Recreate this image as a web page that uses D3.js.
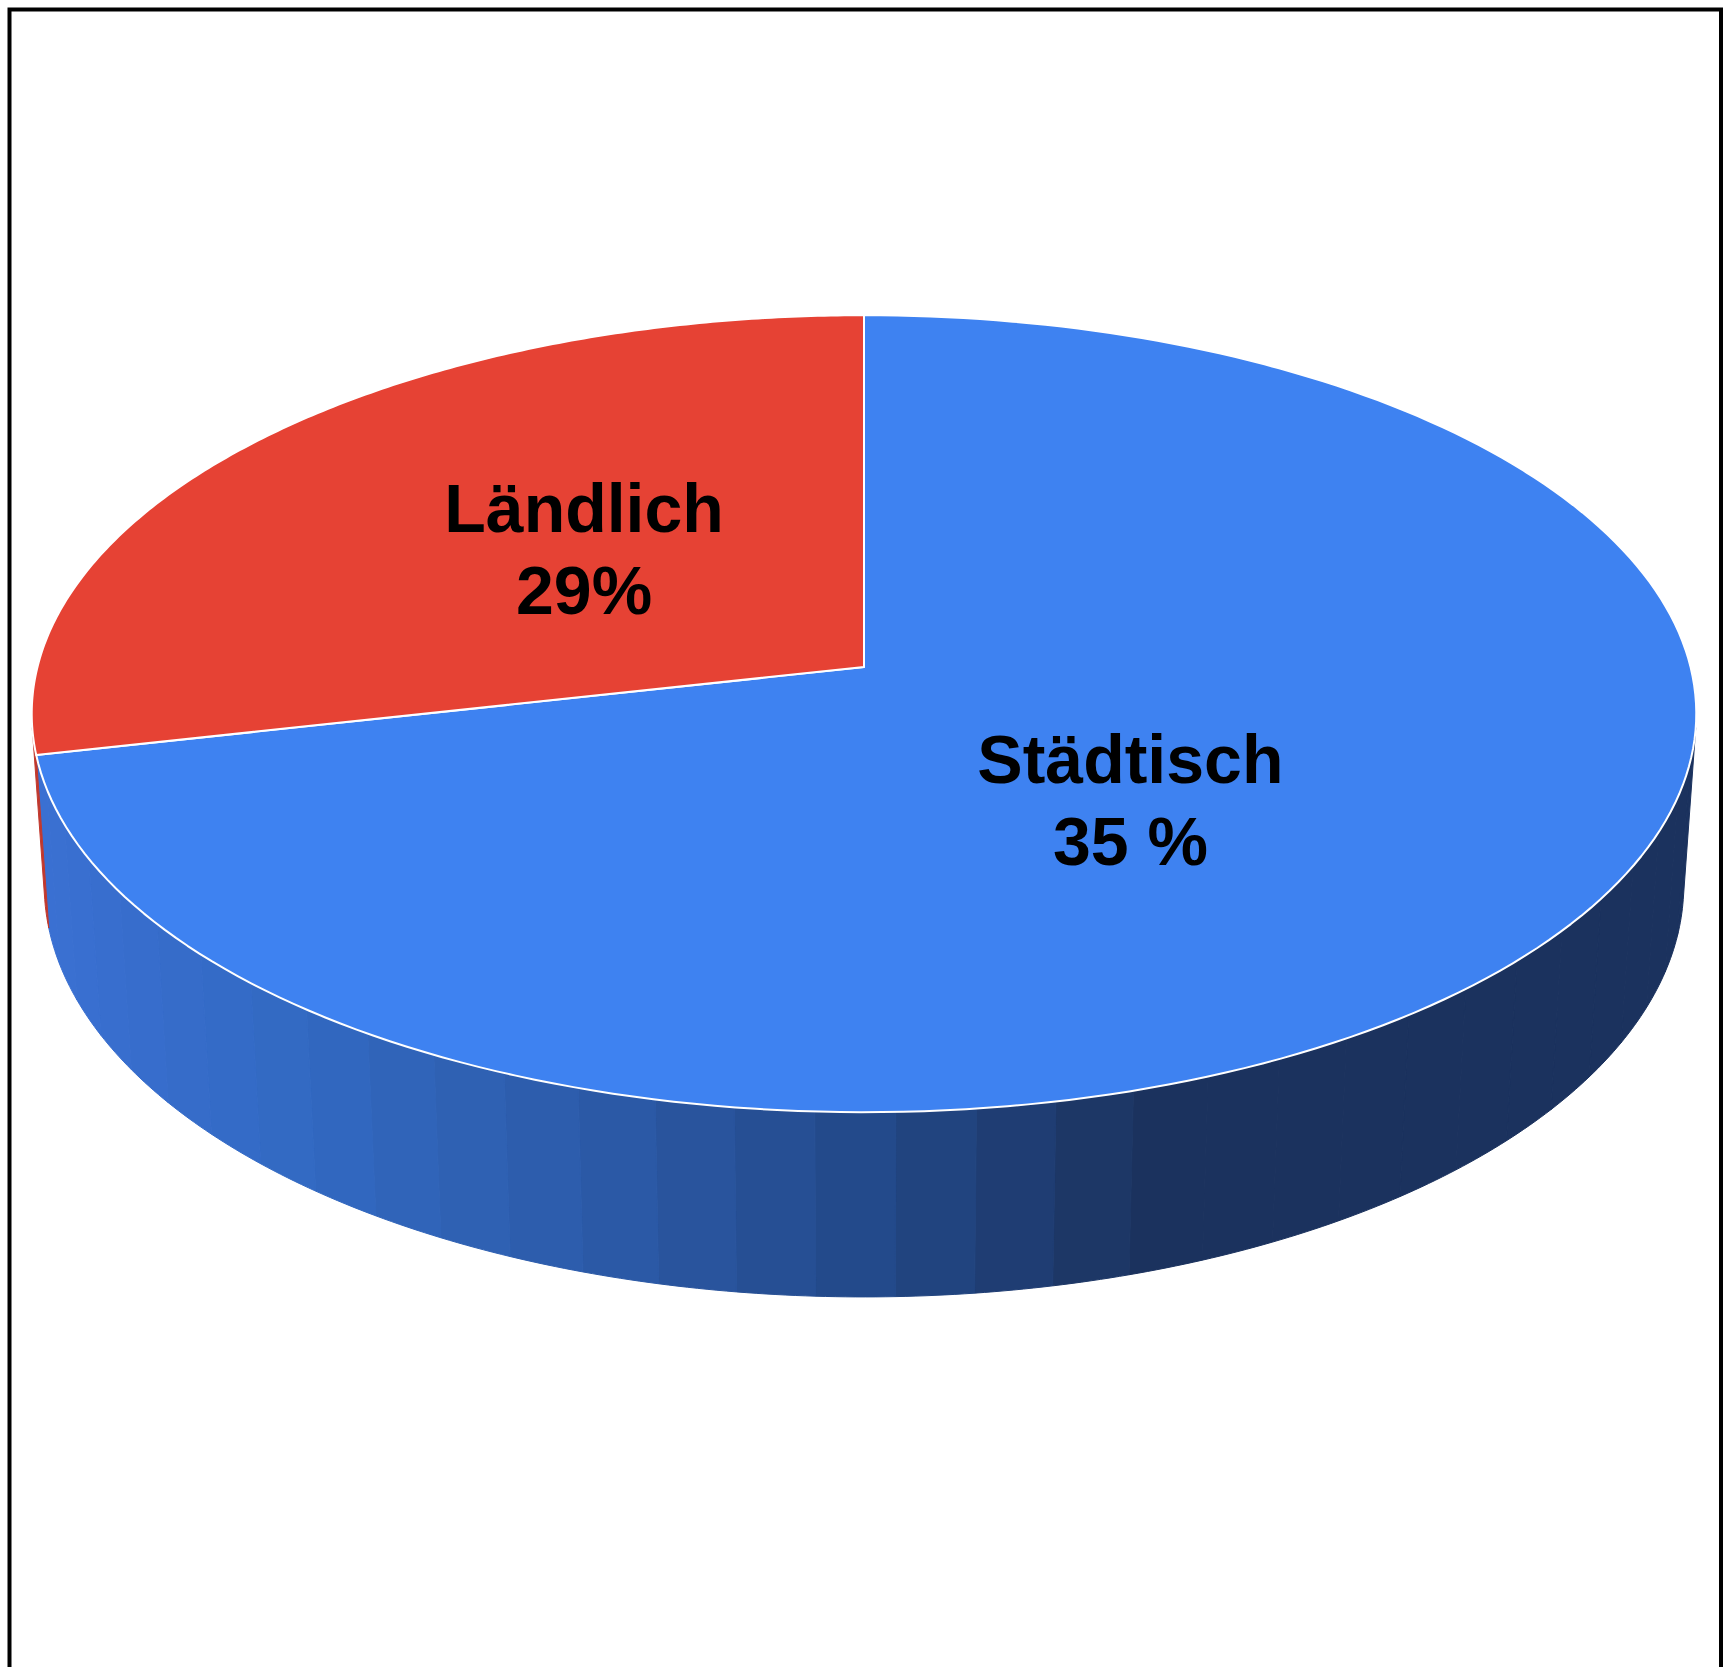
<!DOCTYPE html>
<html>
<head>
<meta charset="utf-8">
<script src="https://cdn.jsdelivr.net/npm/d3@7"></script>
<style>
  html, body { margin: 0; padding: 0; background: #ffffff; }
  svg { display: block; }
</style>
</head>
<body>
<script>
// ---- data ----
const categories = ["Städtisch", "Ländlich"];
const values = [71.5, 28.5];
const labelLines = [["Städtisch", "35 %"], ["Ländlich", "29%"]];
const topColors = ["#3e82f1", "#e64234"];

// ---- layout ----
const W = 1724, H = 1667;
const cx = 864, cy = 667;          // projected pie centre
const F = 6204;                    // focal scale
const D = 7.506;                   // camera distance (radius units)
const sinA = 0.4755, cosA = 0.8797; // camera elevation
const thick = 0.2373;              // pie thickness (radius units)
const labelR = 0.43;
const labelNudge = [[-20, 24], [-11, -16]];

const svg = d3.select("body").append("svg")
  .attr("width", W).attr("height", H);

svg.append("rect")
  .attr("x", 9.5).attr("y", 9.5)
  .attr("width", 1721 - 9.5).attr("height", 1720)
  .attr("fill", "#ffffff").attr("stroke", "#000").attr("stroke-width", 4);

// perspective projection of a point on the pie (angle clockwise from back)
function proj(theta, r, z) {
  const u = r * Math.sin(theta), v = -r * Math.cos(theta);
  const depth = D - v * cosA - z * sinA;
  return [cx + F * u / depth, cy + F * (v * sinA - z * cosA) / depth];
}

const pie = d3.pie().sort(null).value(d => d);
const arcs = pie(values);

// ---- side walls ----
const limit = Math.acos(-1 / (D * cosA));
const visA = limit, visB = 2 * Math.PI - limit;

const sideBlue = d3.scaleLinear()
  .domain([40, 300, 600, 870, 1150, 1560])
  .range(["#3a70d2", "#3269c2", "#2c5aa8", "#234989", "#1b325e", "#1b325e"])
  .interpolate(d3.interpolateRgb)
  .clamp(true);
const sideRed = d3.scaleLinear()
  .domain([0, 1724]).range(["#c23a2e", "#7a2018"]).clamp(true);
const sideScales = [sideBlue, sideRed];

const sideG = svg.append("g");
arcs.forEach((a, i) => {
  const a0 = Math.max(a.startAngle, visA), a1 = Math.min(a.endAngle, visB);
  if (a1 <= a0) return;
  const n = Math.max(1, Math.ceil((a1 - a0) / (Math.PI / 36)));
  for (let k = 0; k < n; k++) {
    const t0 = a0 + (a1 - a0) * k / n, t1 = a0 + (a1 - a0) * (k + 1) / n;
    const pts = [];
    const m = 8;
    for (let j = 0; j <= m; j++) pts.push(proj(t0 + (t1 - t0) * j / m, 1, 0));
    for (let j = m; j >= 0; j--) pts.push(proj(t0 + (t1 - t0) * j / m, 1, -thick));
    const mid = proj((t0 + t1) / 2, 1, 0);
    const col = sideScales[i](mid[0]);
    sideG.append("path")
      .attr("d", d3.line()(pts) + "Z")
      .attr("fill", col).attr("stroke", col).attr("stroke-width", 1);
  }
});

// ---- top face ----
const topG = svg.append("g");
arcs.forEach((a, i) => {
  const pts = [proj(0, 0, 0)];
  const n = 200;
  for (let j = 0; j <= n; j++) pts.push(proj(a.startAngle + (a.endAngle - a.startAngle) * j / n, 1, 0));
  topG.append("path")
    .attr("d", d3.line()(pts) + "Z")
    .attr("fill", topColors[i])
    .attr("stroke", "#ffffff").attr("stroke-width", 2)
    .attr("stroke-linejoin", "round");
});

// ---- labels ----
const labG = svg.append("g")
  .attr("font-family", "'Liberation Sans', Arial, sans-serif")
  .attr("font-weight", "bold").attr("font-size", 68)
  .attr("fill", "#000").attr("text-anchor", "middle");
arcs.forEach((a, i) => {
  let [px, py] = proj((a.startAngle + a.endAngle) / 2, labelR, 0);
  px += labelNudge[i][0]; py += labelNudge[i][1];
  const t = labG.append("text");
  labelLines[i].forEach((line, j) => {
    t.append("tspan").attr("x", px).attr("y", py - 17 + j * 82).text(line);
  });
});
</script>
</body>
</html>
